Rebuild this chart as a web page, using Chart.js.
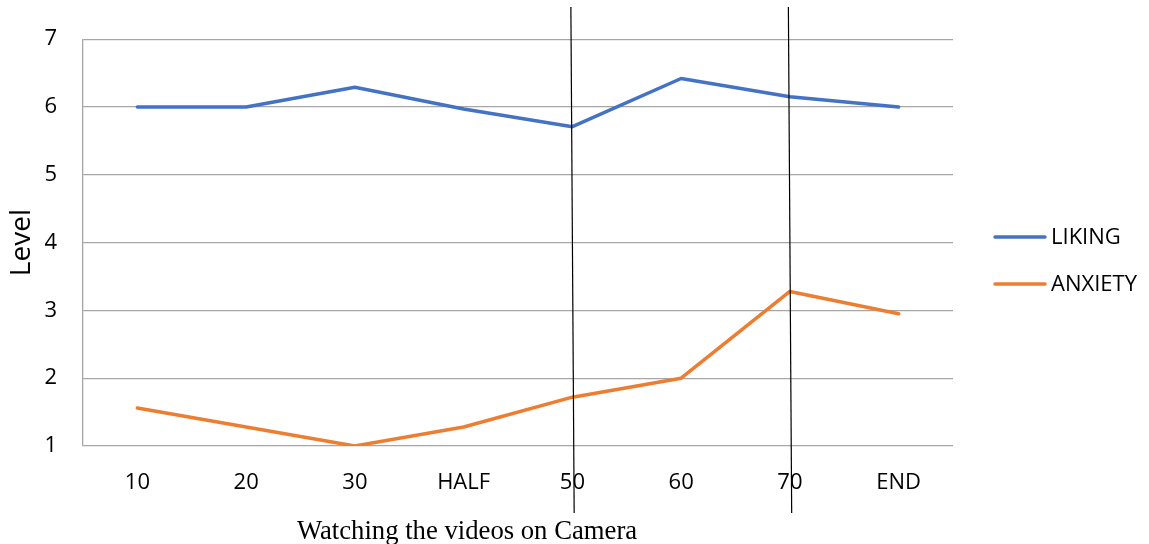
<!DOCTYPE html>
<html>
<head>
<meta charset="utf-8">
<script src="https://cdn.jsdelivr.net/npm/chart.js@4/dist/chart.umd.min.js"></script>
<style>
  html, body { margin: 0; padding: 0; background: #fff; }
  #wrap { width: 1149px; height: 544px; position: relative; }
</style>
</head>
<body>
<div id="wrap"><canvas id="levelChart" width="1149" height="544"></canvas></div>
<script>
// --- DATA ---
const categories = ['10', '20', '30', 'HALF', '50', '60', '70', 'END'];
const likingValues = [6, 6, 6.29, 5.97, 5.71, 6.42, 6.15, 6];
const anxietyValues = [1.56, 1.28, 1.0, 1.28, 1.72, 2.0, 3.28, 2.95];
const yTicks = [1, 2, 3, 4, 5, 6, 7];
const markerCategories = ['50', '70'];   // hand-drawn vertical lines
const xTitle = 'Watching the videos on Camera';
const yTitle = 'Level';

const FONT = '"Open Sans", sans-serif';
const GRID = '#a6a6a6';

// Extra drawing: marker lines, custom legend, offset x title
const extrasPlugin = {
    id: 'extras',
    afterDraw(chart) {
        const ctx = chart.ctx;
        const x = chart.scales.x;
        ctx.save();

        // vertical black lines (slightly slanted, like the original)
        ctx.strokeStyle = '#000';
        ctx.lineWidth = 1.2;
        markerCategories.forEach(c => {
            const px = x.getPixelForValue(categories.indexOf(c));
            ctx.beginPath();
            ctx.moveTo(px - 1.5, 7);
            ctx.lineTo(px + 1.8, 513);
            ctx.stroke();
        });

        // legend on the right
        const legendX = chart.chartArea.right + 42;
        const legendY = [237, 284];
        chart.data.datasets.forEach((ds, i) => {
            ctx.strokeStyle = ds.borderColor;
            ctx.lineWidth = 3.5;
            ctx.lineCap = 'round';
            ctx.beginPath();
            ctx.moveTo(legendX, legendY[i]);
            ctx.lineTo(legendX + 50, legendY[i]);
            ctx.stroke();
            ctx.fillStyle = '#000';
            ctx.font = '22px ' + FONT;
            ctx.textAlign = 'left';
            ctx.textBaseline = 'middle';
            ctx.fillText(ds.label, legendX + 56, legendY[i] + 1);
        });

        // x axis title (serif, left of centre in the original)
        ctx.fillStyle = '#000';
        ctx.font = '26.7px "Liberation Serif", "Times New Roman", serif';
        ctx.textAlign = 'center';
        ctx.textBaseline = 'alphabetic';
        ctx.fillText(xTitle, 467, 539);
        ctx.restore();
    }
};

new Chart(document.getElementById('levelChart'), {
    type: 'line',
    data: {
        labels: categories,
        datasets: [
            { label: 'LIKING', data: likingValues, borderColor: '#4472C4', backgroundColor: '#4472C4' },
            { label: 'ANXIETY', data: anxietyValues, borderColor: '#ED7D31', backgroundColor: '#ED7D31' }
        ]
    },
    options: {
        responsive: false,
        animation: false,
        layout: { padding: { left: 0, right: 196, top: 36, bottom: 0 } },
        elements: {
            line: { borderWidth: 3.5, tension: 0, borderCapStyle: 'round', borderJoinStyle: 'round' },
            point: { radius: 0, hoverRadius: 0 }
        },
        plugins: {
            legend: { display: false },
            tooltip: { enabled: false }
        },
        scales: {
            x: {
                offset: true,
                grid: { display: false, drawTicks: false },
                border: { display: false },
                ticks: { color: '#000', font: { family: FONT, size: 22 }, padding: 24, maxRotation: 0 },
                afterFit(scale) { scale.height = 98; }
            },
            y: {
                min: yTicks[0],
                max: yTicks[yTicks.length - 1],
                afterBuildTicks(scale) { scale.ticks = yTicks.map(v => ({ value: v })); },
                grid: { color: GRID, lineWidth: 1.3, drawTicks: false },
                border: { display: true, color: GRID, width: 1.3 },
                ticks: { color: '#000', font: { family: FONT, size: 22 }, padding: 26 },
                title: { display: true, text: yTitle, color: '#000', font: { family: FONT, size: 28 }, padding: { top: 5, bottom: 0 } },
                afterFit(scale) { scale.width = 83; }
            }
        }
    },
    plugins: [extrasPlugin]
});
</script>
</body>
</html>
